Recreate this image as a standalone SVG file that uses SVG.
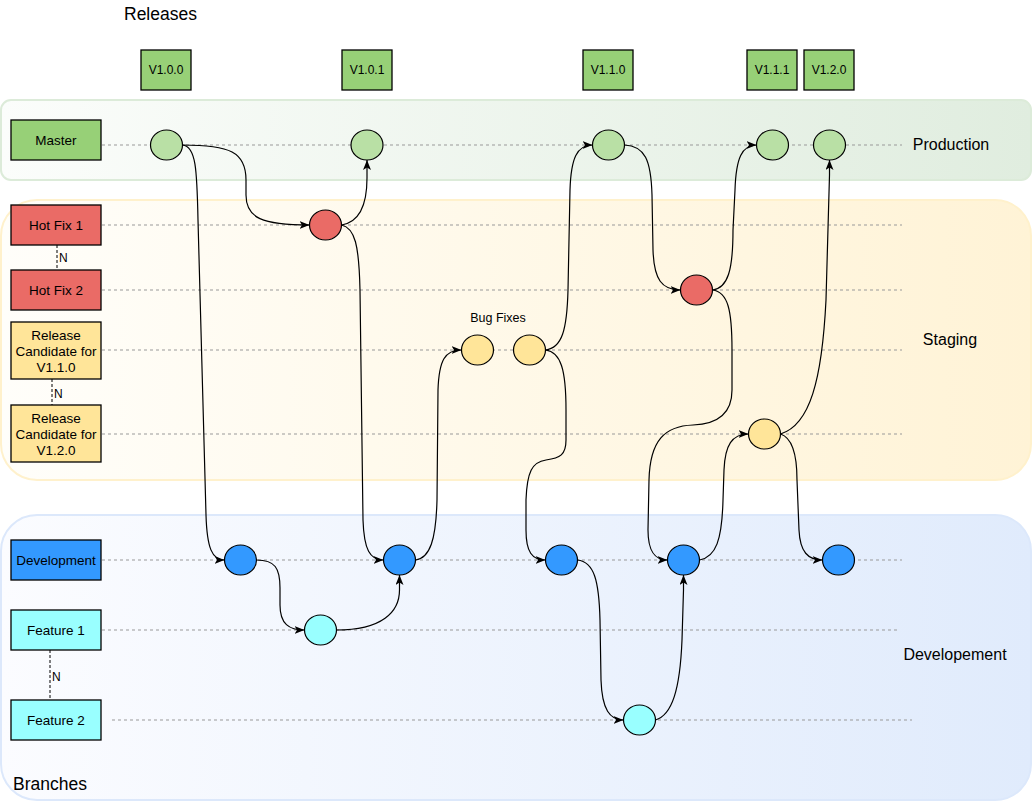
<svg xmlns="http://www.w3.org/2000/svg" width="1032" height="802" viewBox="0 0 1032 802">
<defs>
<linearGradient id="gProd" x1="0" y1="0" x2="1" y2="0"><stop offset="0" stop-color="#fbfdfb"/><stop offset="1" stop-color="#e0eddf"/></linearGradient>
<linearGradient id="gStage" x1="0" y1="0" x2="1" y2="0"><stop offset="0" stop-color="#fffefa"/><stop offset="1" stop-color="#fff3d6"/></linearGradient>
<linearGradient id="gDev" x1="0" y1="0" x2="1" y2="0"><stop offset="0" stop-color="#fbfcff"/><stop offset="1" stop-color="#e0ebfc"/></linearGradient>
<marker id="arr" viewBox="0 0 10 8" markerWidth="10" markerHeight="8" refX="10" refY="4" orient="auto" markerUnits="userSpaceOnUse">
<path d="M0,0 L10,4 L0,8 L2.5,4 Z" fill="#000"/>
</marker>
<style>
text{font-family:"Liberation Sans",Arial,sans-serif;fill:#000}
.lbl{font-size:13.5px;text-anchor:middle;dominant-baseline:central}
.ver{font-size:12px;text-anchor:middle;dominant-baseline:central}
.lane{font-size:16px;text-anchor:middle;dominant-baseline:central}
.big{font-size:17.5px;dominant-baseline:central}
.box{stroke:#000;stroke-width:1.3}
.guide{stroke:#999;stroke-width:1;stroke-dasharray:3 3;fill:none}
.nlink{stroke:#000;stroke-width:1;stroke-dasharray:3 2;fill:none}
.edge{stroke:#000;stroke-width:1.2;fill:none}
.arrow{marker-end:url(#arr)}
.c{stroke:#000;stroke-width:1.2}
.cm{fill:#b9e0a5}.ch{fill:#ea6b66}.cr{fill:#ffe599}.cd{fill:#3399ff}.cf{fill:#99ffff}
.nm{font-size:12px}
</style>
</defs>

<g id="lanes">
<rect id="lane-production" x="1" y="100" width="1030" height="80" rx="10" fill="url(#gProd)" stroke="#dcebd9" stroke-width="2"/>
<rect id="lane-staging" x="1" y="200" width="1030" height="280" rx="36" fill="url(#gStage)" stroke="#fff1cc" stroke-width="2"/>
<rect id="lane-development" x="1" y="515" width="1030" height="285" rx="36" fill="url(#gDev)" stroke="#dce8fb" stroke-width="2"/>
</g>

<g id="guides">
<line class="guide" x1="102" y1="145" x2="902" y2="145"/>
<line class="guide" x1="102" y1="225" x2="902" y2="225"/>
<line class="guide" x1="102" y1="290" x2="902" y2="290"/>
<line class="guide" x1="102" y1="350" x2="902" y2="350"/>
<line class="guide" x1="102" y1="434" x2="902" y2="434"/>
<line class="guide" x1="102" y1="560" x2="902" y2="560"/>
<line class="guide" x1="102" y1="630" x2="898" y2="630"/>
<line class="guide" x1="112" y1="720" x2="912" y2="720"/>
</g>

<g id="titles">
<text class="big" x="124" y="14">Releases</text>
<text class="big" x="13" y="784">Branches</text>
<text class="lane" x="951" y="144">Production</text>
<text class="lane" x="950" y="339">Staging</text>
<text class="lane" x="955" y="654">Developement</text>
<text class="lbl" x="498" y="318" style="font-size:12.5px">Bug Fixes</text>
</g>

<g id="releases">
<g id="rel-v100"><rect class="box" x="141" y="50" width="50" height="40" fill="#97d077"/><text class="ver" x="166" y="70">V1.0.0</text></g>
<g id="rel-v101"><rect class="box" x="342" y="50" width="50" height="40" fill="#97d077"/><text class="ver" x="367" y="70">V1.0.1</text></g>
<g id="rel-v110"><rect class="box" x="583" y="50" width="50" height="40" fill="#97d077"/><text class="ver" x="608" y="70">V1.1.0</text></g>
<g id="rel-v111"><rect class="box" x="747" y="50" width="50" height="40" fill="#97d077"/><text class="ver" x="772" y="70">V1.1.1</text></g>
<g id="rel-v120"><rect class="box" x="804" y="50" width="50" height="40" fill="#97d077"/><text class="ver" x="829" y="70">V1.2.0</text></g>
</g>

<g id="branch-links">
<line class="nlink" x1="57" y1="245" x2="57" y2="270"/><text class="nm" x="59" y="262">N</text>
<line class="nlink" x1="52" y1="379" x2="52" y2="405"/><text class="nm" x="54" y="398">N</text>
<line class="nlink" x1="50" y1="650" x2="50" y2="700"/><text class="nm" x="52" y="681">N</text>
</g>

<g id="branches">
<g id="br-master"><rect class="box" x="11" y="120" width="90" height="40" fill="#97d077"/><text class="lbl" x="56" y="140">Master</text></g>
<g id="br-hotfix1"><rect class="box" x="11" y="205" width="90" height="40" fill="#ea6b66"/><text class="lbl" x="56" y="225">Hot Fix 1</text></g>
<g id="br-hotfix2"><rect class="box" x="11" y="270" width="90" height="40" fill="#ea6b66"/><text class="lbl" x="56" y="290">Hot Fix 2</text></g>
<g id="br-rc110"><rect class="box" x="11" y="322" width="90" height="57" fill="#ffe599"/><text class="lbl" x="56" y="335">Release</text><text class="lbl" x="56" y="351">Candidate for</text><text class="lbl" x="56" y="367">V1.1.0</text></g>
<g id="br-rc120"><rect class="box" x="11" y="405" width="90" height="57" fill="#ffe599"/><text class="lbl" x="56" y="418">Release</text><text class="lbl" x="56" y="434">Candidate for</text><text class="lbl" x="56" y="450">V1.2.0</text></g>
<g id="br-dev"><rect class="box" x="11" y="540" width="90" height="40" fill="#3399ff"/><text class="lbl" x="56" y="560">Development</text></g>
<g id="br-feat1"><rect class="box" x="11" y="610" width="90" height="40" fill="#99ffff"/><text class="lbl" x="56" y="630">Feature 1</text></g>
<g id="br-feat2"><rect class="box" x="11" y="700" width="90" height="40" fill="#99ffff"/><text class="lbl" x="56" y="720">Feature 2</text></g>
</g>

<g id="connectors">
<path class="edge arrow" d="M182.5,145 C230,145 246,152 246,180 L246,195 C246,218 262,225 309.5,225"/>
<path class="edge arrow" d="M182.5,145 C196,146 197,170 198,220 L206,515 C207,548 212,560 224.5,560"/>
<path class="edge arrow" d="M341.5,225 C360,222 367,205 367,178 L367,160"/>
<path class="edge arrow" d="M341.5,225 C355,228 359,245 360,290 L363,520 C364,550 370,560 383.5,560"/>
<path class="edge arrow" d="M256.5,560 C275,560 280,568 280,588 L280,605 C280,624 289,630 304.5,630"/>
<path class="edge arrow" d="M336.5,630 C382,630 399.5,612 399.5,590 L399.5,575"/>
<path class="edge arrow" d="M415.5,560 C430,558 436,540 437,500 L438,390 C439,360 445,350 461.5,350"/>
<path class="edge arrow" d="M545.5,350 C562,348 567,330 568,290 L570,190 C571,158 577,145 592.5,145"/>
<path class="edge arrow" d="M545.5,350 C561,352 566,370 566,410 L566,440 C566,455 560,458 546,460 C532,462 527,472 526,500 L526,530 C526,552 532,560 545.5,560"/>
<path class="edge arrow" d="M624.5,145 C645,146 651,160 652,195 L653,250 C654,280 662,290 680.5,290"/>
<path class="edge arrow" d="M712.5,290 C728,288 733,270 733,230 L735,190 C736,158 742,145 756.5,145"/>
<path class="edge arrow" d="M712.5,290 C728,292 732,310 732,350 L732,390 C732,412 720,424 693,425 C665,426 650,440 649,480 L648,530 C648,552 655,560 667.5,560"/>
<path class="edge arrow" d="M577.5,560 C594,562 599,580 600,620 L601,680 C602,710 610,720 623.5,720"/>
<path class="edge arrow" d="M655.5,720 C672,715 680,690 682,640 L683.5,590 L683.5,575"/>
<path class="edge arrow" d="M699.5,560 C716,557 722,540 723,500 L724,470 C725,445 732,434 748.5,434"/>
<path class="edge arrow" d="M780.5,434 C810,425 822,380 826,300 L829.5,175 L829.5,160"/>
<path class="edge arrow" d="M780.5,434 C793,438 797,455 797,480 L799,530 C800,552 808,560 822.5,560"/>
</g>

<g id="commits">
<g id="c-m1"><ellipse class="c cm" cx="166.5" cy="145" rx="16" ry="15"/></g>
<g id="c-m2"><ellipse class="c cm" cx="367" cy="145" rx="16" ry="15"/></g>
<g id="c-m3"><ellipse class="c cm" cx="608.5" cy="145" rx="16" ry="15"/></g>
<g id="c-m4"><ellipse class="c cm" cx="772.5" cy="145" rx="16" ry="15"/></g>
<g id="c-m5"><ellipse class="c cm" cx="829.5" cy="145" rx="16" ry="15"/></g>
<g id="c-h1"><ellipse class="c ch" cx="325.5" cy="225" rx="16" ry="15"/></g>
<g id="c-h2"><ellipse class="c ch" cx="696.5" cy="290" rx="16" ry="15"/></g>
<g id="c-r1"><ellipse class="c cr" cx="477.5" cy="350" rx="16" ry="15"/></g>
<g id="c-r2"><ellipse class="c cr" cx="529.5" cy="350" rx="16" ry="15"/></g>
<g id="c-r3"><ellipse class="c cr" cx="764.5" cy="434" rx="16" ry="15"/></g>
<g id="c-d1"><ellipse class="c cd" cx="240.5" cy="560" rx="16" ry="15"/></g>
<g id="c-d2"><ellipse class="c cd" cx="399.5" cy="560" rx="16" ry="15"/></g>
<g id="c-d3"><ellipse class="c cd" cx="561.5" cy="560" rx="16" ry="15"/></g>
<g id="c-d4"><ellipse class="c cd" cx="683.5" cy="560" rx="16" ry="15"/></g>
<g id="c-d5"><ellipse class="c cd" cx="838.5" cy="560" rx="16" ry="15"/></g>
<g id="c-f1"><ellipse class="c cf" cx="320.5" cy="630" rx="16" ry="15"/></g>
<g id="c-f2"><ellipse class="c cf" cx="639.5" cy="720" rx="16" ry="15"/></g>
</g>
</svg>
